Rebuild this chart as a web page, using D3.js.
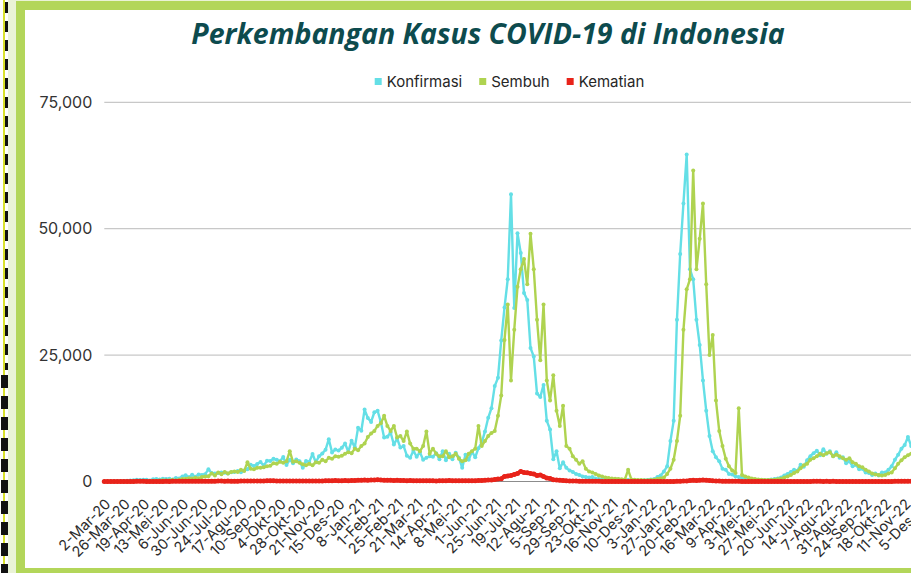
<!DOCTYPE html>
<html>
<head>
<meta charset="utf-8">
<script src="https://cdn.jsdelivr.net/npm/d3@7"></script>
<style>
  body { margin: 0; background: #fff; overflow: hidden; }
  svg { display: block; }
</style>
</head>
<body>
<div id="chart"></div>
<script>
// data: daily cases, one value every 4 days from 2-Mar-20
var startDate = Date.UTC(2020, 2, 2);
var stepDays = 4;

var seriesNames = ["Konfirmasi", "Sembuh", "Kematian"];

var konfirmasi = [
  2, 2, 8, 27, 55, 64, 103, 129,
  196, 247, 330, 297, 327, 357, 214, 433,
  484, 387, 568, 496, 526, 415, 700, 609,
  993, 1241, 857, 1331, 954, 1385, 1293, 1447,
  2400, 1681, 1574, 1693, 1761, 1748, 1560, 1815,
  1893, 2098, 1821, 2197, 2447, 3308, 3075, 3444,
  3861, 3141, 4105, 4071, 4494, 4284, 3992, 4850,
  3267, 4301, 3602, 4369, 4029, 2696, 4065, 3880,
  5444, 3807, 4998, 5534, 6267, 8369, 5754, 6310,
  6120, 6689, 7514, 5854, 8074, 6753, 10617, 10047,
  14224, 12568, 11788, 13695, 14000, 11749, 8700, 8844,
  9700, 7300, 8500, 6700, 7000, 5100, 4700, 6100,
  4900, 5800, 4300, 4700, 5000, 4900, 5600, 4400,
  6000, 4200, 5500, 4400, 5700, 4700, 2700, 5300,
  4300, 5900, 4800, 6600, 7700, 9900, 12600, 14500,
  18900, 20500, 27900, 34400, 40000, 56800, 34300, 49100,
  45200, 37300, 35900, 26400, 24700, 17400, 16700, 19100,
  12000, 10300, 4400, 6000, 2600, 3800, 2700, 2200, 1900,
  1500, 1300, 1000, 900, 800, 900, 600, 500,
  450, 400, 450, 380, 350, 400, 300, 250, 300, 200, 250, 200, 150, 250, 300,
  400, 500, 900, 1200, 2000, 3000, 8000, 12000, 32000, 45000, 55000, 64700, 42000, 40000, 32000, 27000,
  20000, 14000, 9000, 6000, 4800, 4000, 2500, 2300, 1500, 1400, 1000, 900, 700, 500, 400, 300,
  250, 250, 300, 250, 300, 400, 500, 600, 800, 1200, 1500, 1900, 2300, 2100, 3300, 2900,
  4200, 5000, 5600, 6100, 5200, 6400, 5500, 6000, 5000, 5800, 4700, 4800, 3600, 4000, 3000, 3300, 2400, 2500, 1800, 1700,
  1300, 1600, 1200, 1800, 1800, 2300, 3000, 4300, 5300, 6500, 7200, 8800, 7000, 6000, 5500
];

var sembuh = [
  0, 0, 0, 1, 2, 4, 8, 10,
  13, 30, 45, 30, 60, 60, 70, 140,
  150, 180, 240, 180, 250, 300, 190, 350,
  470, 560, 630, 580, 730, 620, 880, 1000,
  1050, 1600, 1200, 1800, 1450, 1900, 1600, 1900,
  2000, 1900, 2300, 2100, 3800, 2500, 2400, 2700,
  2700, 2800, 3000, 3100, 3600, 3500, 3900, 3700,
  4000, 6000, 3900, 4000, 3700, 3400, 3200, 3500,
  3200, 3800, 3700, 4300, 4000, 4700, 4500, 5000,
  4900, 5100, 5500, 5800, 5600, 6500, 6200, 7000,
  7500, 8800, 9500, 10000, 11000, 11500, 13000, 11000,
  10000, 11000, 8700, 9000, 8000, 9900, 7500, 6500,
  6500, 6000, 7000, 9900, 5500, 6500, 5500, 5000,
  5000, 6000, 4800, 5000, 5500, 4500, 4000, 4200,
  5500, 6000, 6500, 11000, 7000, 8000, 9000, 9600,
  10000, 13000, 17000, 28000, 35000, 20000, 30000, 38500,
  42000, 44000, 39000, 49000, 42000, 32000, 24000, 35000,
  20000, 16000, 21000, 14000, 11000, 15000, 7000, 6500, 5000,
  4300, 3500, 4000, 2500, 2000, 1800, 1500, 1200,
  1000, 800, 700, 600, 550, 500, 450, 400, 2300, 400, 350, 300, 300, 250, 250,
  300, 350, 500, 600, 800, 1500, 2500, 4300, 8000, 13000, 30000, 38000, 40000, 61500, 42000, 48000,
  55000, 39000, 25000, 29000, 16000, 10000, 7000, 4500, 3000, 2200, 1700, 14500, 1300, 1000, 800, 600,
  500, 400, 350, 300, 300, 300, 350, 450, 550, 800, 1000, 1300, 1700, 2000, 2600, 3200,
  3500, 4300, 4600, 5000, 5500, 5200, 5600, 5800, 5000, 5300, 5000, 4600, 4300, 4600, 3800, 3500, 3000, 2800, 2300, 2000,
  1600, 1400, 1300, 1200, 1300, 1600, 1800, 2600, 3500, 4200, 4800, 5200, 5500, 5600, 5800
];

var kematian = [
  0, 0, 0, 1, 2, 5, 15, 14,
  10, 20, 40, 25, 30, 20, 20, 20,
  15, 20, 15, 30, 20, 30, 25, 25,
  40, 35, 50, 40, 40, 50, 60, 60,
  60, 70, 60, 80, 80, 70, 80, 65,
  60, 70, 80, 75, 85, 100, 100, 100,
  110, 120, 125, 140, 130, 110, 100, 110,
  90, 100, 110, 100, 100, 90, 95, 100,
  105, 100, 110, 120, 130, 140, 160, 180,
  160, 170, 180, 170, 200, 180, 230, 250,
  300, 270, 300, 320, 340, 280, 270, 250,
  250, 200, 260, 200, 190, 150, 180, 150,
  140, 140, 130, 150, 140, 130, 120, 130,
  150, 160, 180, 170, 160, 150, 140, 150,
  150, 160, 170, 180, 200, 250, 280, 320,
  400, 500, 550, 1000, 1100, 1200, 1400, 1600,
  2000, 1800, 1750, 1600, 1500, 1200, 1300, 1000,
  700, 600, 350, 300, 250, 200, 150, 120, 100,
  90, 70, 60, 50, 45, 40, 30, 25,
  20, 15, 15, 12, 10, 10, 8, 8, 8, 7, 6, 6, 5, 5, 5,
  5, 5, 7, 6, 7, 10, 15, 20, 40, 60, 90, 120, 180, 250, 200, 250,
  300, 250, 200, 150, 120, 100, 70, 60, 40, 35, 30, 25, 20, 20, 15, 10,
  8, 10, 7, 8, 6, 5, 6, 5, 5, 6, 7, 8, 10, 12, 15, 15,
  20, 20, 25, 25, 30, 20, 25, 20, 25, 20, 20, 15, 20, 15, 15, 15, 15, 10, 10, 10,
  10, 8, 10, 10, 15, 15, 20, 25, 30, 35, 40, 40, 45, 50, 50
];

var bulan = ["Jan", "Feb", "Mar", "Apr", "Mei", "Jun", "Jul", "Agu", "Sep", "Okt", "Nov", "Des"];

var tickLabels = [
  "2-Mar-20", "26-Mar-20", "19-Apr-20", "13-Mei-20", "6-Jun-20", "30-Jun-20", "24-Jul-20",
  "17-Agu-20", "10-Sep-20", "4-Okt-20", "28-Okt-20", "21-Nov-20", "15-Des-20", "8-Jan-21",
  "1-Feb-21", "25-Feb-21", "21-Mar-21", "14-Apr-21", "8-Mei-21", "1-Jun-21", "25-Jun-21",
  "19-Jul-21", "12-Agu-21", "5-Sep-21", "29-Sep-21", "23-Okt-21", "16-Nov-21", "10-Des-21",
  "3-Jan-22", "27-Jan-22", "20-Feb-22", "16-Mar-22", "9-Apr-22", "3-Mei-22", "27-Mei-22",
  "20-Jun-22", "14-Jul-22", "7-Agu-22", "31-Agu-22", "24-Sep-22", "18-Okt-22", "11-Nov-22", "5-Des-22"
];

var yTicks = [0, 25000, 50000, 75000];

var colors = ["#64dfe6", "#afd350", "#e8231a"];

// layout
var svgWidth = 911;
var svgHeight = 573;
var plotLeft = 104.3;
var pxPerDay = 0.8134;
var yBottom = 481.5;
var yTop = 102.3;

var svg = d3.select("#chart")
  .append("svg")
  .attr("width", svgWidth)
  .attr("height", svgHeight);

// frame
svg.append("rect").attr("x", 8).attr("y", 0).attr("width", svgWidth).attr("height", svgHeight).attr("fill", "#eaf3d6");
svg.append("rect").attr("x", 16).attr("y", 1).attr("width", svgWidth).attr("height", 575).attr("fill", "#b3d65a");
svg.append("rect").attr("x", 25).attr("y", 10).attr("width", svgWidth).attr("height", 558).attr("fill", "#ffffff");
svg.append("line").attr("x1", 4).attr("x2", 4).attr("y1", 0).attr("y2", svgHeight)
  .attr("stroke", "#d8e02c").attr("stroke-width", 2);
svg.append("line").attr("x1", 6.5).attr("x2", 6.5).attr("y1", 2).attr("y2", 370)
  .attr("stroke", "#111").attr("stroke-width", 3).attr("stroke-dasharray", "11,8");
svg.append("line").attr("x1", 4.5).attr("x2", 4.5).attr("y1", 375).attr("y2", svgHeight)
  .attr("stroke", "#111").attr("stroke-width", 7).attr("stroke-dasharray", "13,8");

var parseLabel = function(s) {
  var p = s.split("-");
  return new Date(Date.UTC(2000 + (+p[2]), bulan.indexOf(p[1]), +p[0]));
};

var dates = konfirmasi.map(function(d, i) {
  return new Date(startDate + i * stepDays * 864e5);
});

var endDate = new Date(Date.UTC(2022, 11, 31));
var totalDays = (endDate - startDate) / 864e5;

var x = d3.scaleUtc()
  .domain([new Date(startDate), endDate])
  .range([plotLeft, plotLeft + totalDays * pxPerDay]);

var y = d3.scaleLinear()
  .domain([0, 75000])
  .range([yBottom, yTop]);

var plot = svg.append("g");

// gridlines
plot.selectAll(".grid")
  .data(yTicks.filter(function(d) { return d > 0; }))
  .enter()
  .append("line")
  .attr("x1", plotLeft)
  .attr("x2", x.range()[1])
  .attr("y1", function(d) { return y(d); })
  .attr("y2", function(d) { return y(d); })
  .attr("stroke", "#c8c8c8")
  .attr("stroke-width", 1.2);

plot.append("line")
  .attr("x1", plotLeft).attr("x2", x.range()[1])
  .attr("y1", y(0)).attr("y2", y(0))
  .attr("stroke", "#8c8c8c").attr("stroke-width", 1.2);

// y axis labels
var yAxis = d3.axisLeft(y)
  .tickValues(yTicks)
  .tickSize(0)
  .tickPadding(12)
  .tickFormat(d3.format(","));

var gy = svg.append("g")
  .attr("transform", "translate(" + plotLeft + ",0)")
  .call(yAxis);
gy.select(".domain").remove();
gy.selectAll("text")
  .attr("font-family", "Inter, 'Noto Sans', sans-serif")
  .attr("font-size", "16px")
  .attr("fill", "#333");

// x axis labels
var xAxis = d3.axisBottom(x)
  .tickValues(tickLabels.map(parseLabel))
  .tickSize(0)
  .tickFormat(function(d, i) { return tickLabels[i]; });

var gx = svg.append("g")
  .attr("transform", "translate(0," + yBottom + ")")
  .call(xAxis);
gx.select(".domain").remove();
gx.selectAll("text")
  .attr("font-family", "Inter, 'Noto Sans', sans-serif")
  .attr("font-size", "14.5px")
  .attr("fill", "#2b2b2b")
  .attr("text-anchor", "end")
  .attr("x", 0)
  .attr("y", 0)
  .attr("dy", "0.35em")
  .attr("transform", "translate(3,20) rotate(-45)");

// series
var allSeries = [konfirmasi, sembuh, kematian];

var line = d3.line()
  .x(function(d, i) { return x(dates[i]); })
  .y(function(d) { return y(d); });

allSeries.forEach(function(values, s) {
  plot.append("path")
    .datum(values)
    .attr("fill", "none")
    .attr("stroke", colors[s])
    .attr("stroke-width", s === 2 ? 4 : 2.4)
    .attr("stroke-linejoin", "round")
    .attr("d", line);

  plot.selectAll(".dot" + s)
    .data(values)
    .enter()
    .append("circle")
    .attr("cx", function(d, i) { return x(dates[i]); })
    .attr("cy", function(d) { return y(d); })
    .attr("r", s === 2 ? 2.5 : 2)
    .attr("fill", colors[s]);
});

// title
svg.append("text")
  .attr("x", 488)
  .attr("y", 44)
  .attr("text-anchor", "middle")
  .attr("font-family", "'Open Sans', Lato, sans-serif")
  .attr("font-style", "italic")
  .attr("font-weight", 700)
  .attr("font-size", "28.5px")
  .attr("fill", "#0d4b4e")
  .text("Perkembangan Kasus COVID-19 di Indonesia");

// legend
var legend = svg.append("g");
var items = legend.selectAll("g")
  .data(seriesNames)
  .enter()
  .append("g");

items.append("rect")
  .attr("width", 7).attr("height", 7)
  .attr("y", -4)
  .attr("fill", function(d, i) { return colors[i]; });

items.append("text")
  .attr("x", 12)
  .attr("y", 0)
  .attr("dy", "0.35em")
  .attr("font-family", "Inter, 'Noto Sans', sans-serif")
  .attr("font-size", "15px")
  .attr("fill", "#262626")
  .text(function(d) { return d; });

var pos = 0;
var widths = [];
items.each(function() {
  widths.push(12 + d3.select(this).select("text").node().getComputedTextLength());
});
var totalW = d3.sum(widths) + 17 * (widths.length - 1);
var lx = 509.5 - totalW / 2;
items.attr("transform", function(d, i) {
  var t = "translate(" + (lx + pos) + ",82)";
  pos += widths[i] + 17;
  return t;
});
</script>
</body>
</html>
